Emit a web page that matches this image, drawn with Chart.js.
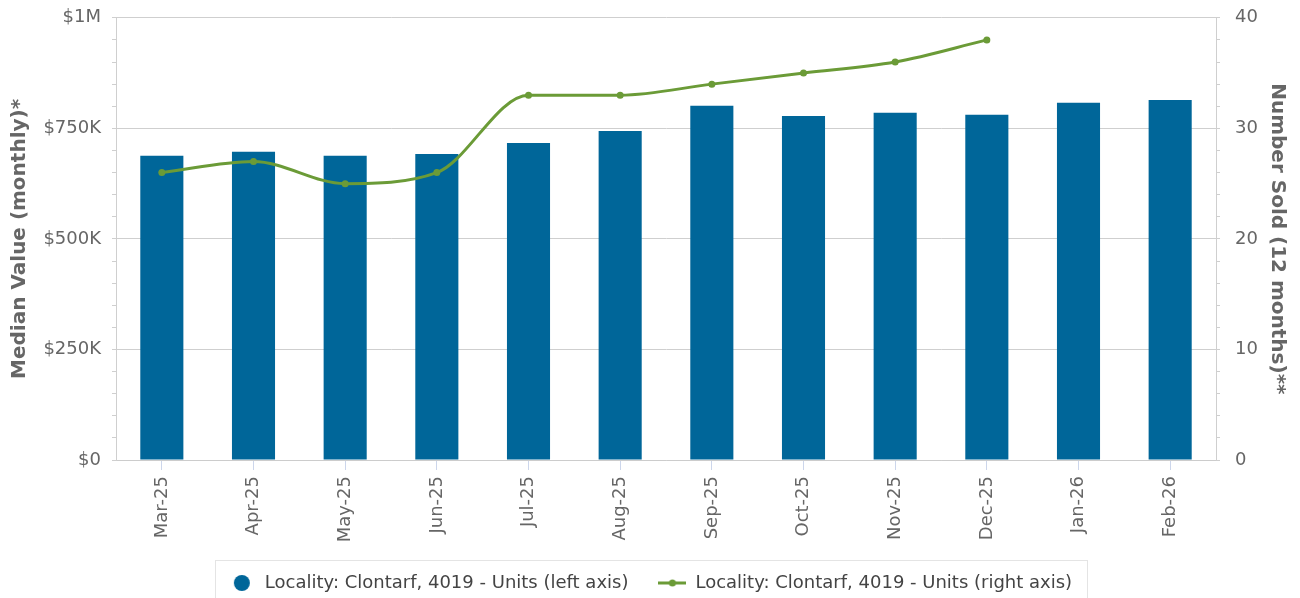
<!DOCTYPE html>
<html>
<head>
<meta charset="utf-8">
<script src="https://cdn.jsdelivr.net/npm/chart.js@4.4.1/dist/chart.umd.min.js"></script>
<style>
  html, body { margin: 0; padding: 0; background: #fff; overflow: hidden; }
  #wrap { position: relative; top: -8px; width: 1300px; height: 610px; }
</style>
</head>
<body>
<div id="wrap"><canvas id="chart"></canvas></div>
<script>
const months = ['Mar-25', 'Apr-25', 'May-25', 'Jun-25', 'Jul-25', 'Aug-25',
                'Sep-25', 'Oct-25', 'Nov-25', 'Dec-25', 'Jan-26', 'Feb-26'];
const medianValues = [688000, 697000, 688000, 692000, 717000, 744000,
                      801000, 778000, 785000, 781000, 808000, 814000];
const numberSold = [26, 27, 25, 26, 33, 33, 34, 35, 36, 38, null, null];

const leftMax = 1000000;
const leftMajor = 250000;
const rightMax = 40;
const rightMajor = 10;

const barLabel = 'Locality: Clontarf, 4019 - Units (left axis)';
const lineLabel = 'Locality: Clontarf, 4019 - Units (right axis)';
const leftTitle = 'Median Value (monthly)*';
const rightTitle = 'Number Sold (12 months)**';

const BLUE = '#006699';
const GREEN = '#6b9b37';
const FONT = "'DejaVu Sans', sans-serif";

function money(v) {
    if (v === 0) return '$0';
    if (v >= 1000000) return '$' + (v / 1000000) + 'M';
    return '$' + (v / 1000) + 'K';
}

// legend icons: a dot for the bars, a line with a dot for the line
function circleIcon(color) {
    const c = document.createElement('canvas');
    c.width = 18; c.height = 18;
    const g = c.getContext('2d');
    g.fillStyle = color;
    g.beginPath();
    g.arc(9, 9, 8, 0, Math.PI * 2);
    g.fill();
    return c;
}

function lineIcon(color) {
    const c = document.createElement('canvas');
    c.width = 28; c.height = 18;
    const g = c.getContext('2d');
    g.strokeStyle = color;
    g.lineWidth = 3;
    g.beginPath();
    g.moveTo(0, 9);
    g.lineTo(28, 9);
    g.stroke();
    g.fillStyle = color;
    g.beginPath();
    g.arc(14, 9, 3.5, 0, Math.PI * 2);
    g.fill();
    return c;
}

const icons = [circleIcon(BLUE), lineIcon(GREEN)];

// thin frame round the legend
const legendFrame = {
    id: 'legendFrame',
    afterDraw(chart) {
        const boxes = chart.legend && chart.legend.legendHitBoxes;
        if (!boxes || !boxes.length) return;
        const first = boxes[0];
        const last = boxes[boxes.length - 1];
        const left = Math.round(first.left - 13) + 0.5;
        const right = Math.round(last.left + last.width + 15) + 0.5;
        const mid = first.top + first.height / 2;
        const ctx = chart.ctx;
        ctx.save();
        ctx.strokeStyle = '#e4e4e4';
        ctx.lineWidth = 1;
        ctx.strokeRect(left, Math.round(mid - 23) + 0.5, right - left, 70);
        ctx.restore();
    }
};

const ctx = document.getElementById('chart').getContext('2d');
new Chart(ctx, {
    type: 'bar',
    data: {
        labels: months,
        datasets: [{
            type: 'bar',
            label: barLabel,
            data: medianValues,
            yAxisID: 'y',
            backgroundColor: BLUE,
            barPercentage: 0.47,
            categoryPercentage: 1,
            order: 1
        }, {
            type: 'line',
            label: lineLabel,
            data: numberSold,
            yAxisID: 'y1',
            borderColor: GREEN,
            backgroundColor: GREEN,
            borderWidth: 3,
            pointRadius: 3.5,
            pointBackgroundColor: GREEN,
            pointBorderWidth: 0,
            cubicInterpolationMode: 'monotone',
            spanGaps: false,
            order: 0
        }]
    },
    options: {
        responsive: true,
        maintainAspectRatio: false,
        animation: false,
        layout: { padding: { top: 9, left: 0, right: 0, bottom: 0 } },
        plugins: {
            tooltip: { enabled: false },
            legend: {
                position: 'bottom',
                labels: {
                    font: { family: FONT, size: 18 },
                    color: '#444',
                    usePointStyle: true,
                    pointStyleWidth: 28,
                    padding: 30,
                    generateLabels(chart) {
                        const items = Chart.defaults.plugins.legend.labels.generateLabels(chart);
                        items.sort((a, b) => a.datasetIndex - b.datasetIndex);
                        items.forEach(it => { it.pointStyle = icons[it.datasetIndex]; });
                        return items;
                    }
                }
            }
        },
        scales: {
            x: {
                offset: true,
                grid: {
                    offset: false,
                    drawOnChartArea: false,
                    tickColor: '#ccd6eb',
                    tickLength: 10
                },
                border: { color: '#ccc' },
                ticks: {
                    font: { family: FONT, size: 18 },
                    color: '#666',
                    minRotation: 90,
                    maxRotation: 90,
                    padding: 6,
                    autoSkip: false
                },
                afterFit(scale) { scale.height = 84; }
            },
            y: {
                position: 'left',
                min: 0,
                max: leftMax,
                grid: {
                    color: c => (c.tick && c.tick.value % leftMajor === 0) ? '#cfcfcf' : 'transparent',
                    tickColor: '#cfcfcf',
                    tickLength: 4
                },
                border: { color: '#cfcfcf' },
                ticks: {
                    stepSize: leftMajor / 5,
                    autoSkip: false,
                    font: { family: FONT, size: 18 },
                    color: '#666',
                    padding: 11,
                    callback: v => v % leftMajor === 0 ? money(v) : ''
                },
                title: {
                    display: true,
                    text: leftTitle,
                    font: { family: FONT, size: 20, weight: 'bold' },
                    color: '#666',
                    padding: { top: 8, bottom: 0 }
                },
                afterFit(scale) { scale.width = 116; }
            },
            y1: {
                position: 'right',
                min: 0,
                max: rightMax,
                grid: {
                    drawOnChartArea: false,
                    tickColor: '#cfcfcf',
                    tickLength: 4
                },
                border: { color: '#cfcfcf' },
                ticks: {
                    stepSize: rightMajor / 5,
                    autoSkip: false,
                    font: { family: FONT, size: 18 },
                    color: '#666',
                    padding: 15,
                    callback: v => v % rightMajor === 0 ? String(v) : ''
                },
                title: {
                    display: true,
                    text: rightTitle,
                    font: { family: FONT, size: 20, weight: 'bold' },
                    color: '#666',
                    padding: { top: 11, bottom: 0 }
                },
                afterFit(scale) { scale.width = 84; }
            }
        }
    },
    plugins: [legendFrame]
});
</script>
</body>
</html>
